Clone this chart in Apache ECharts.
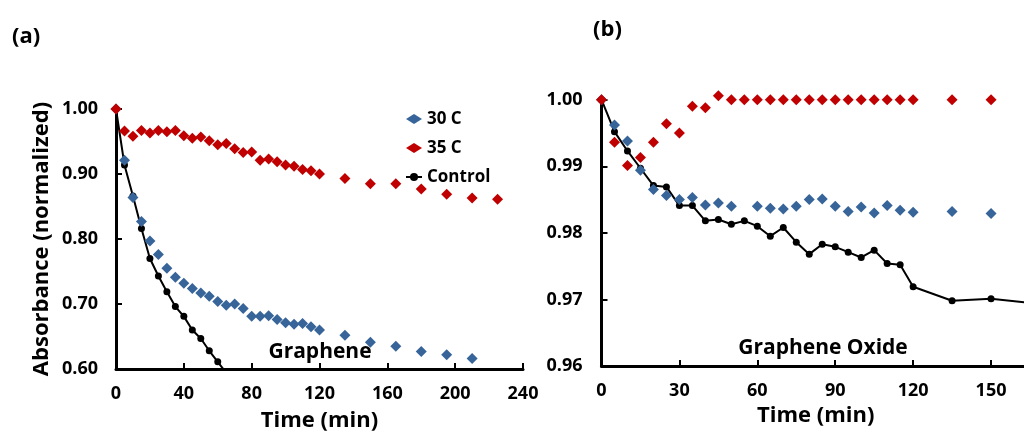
<!DOCTYPE html>
<html>
<head>
<meta charset="utf-8">
<script src="https://cdn.jsdelivr.net/npm/echarts@6/dist/echarts.min.js"></script>
<style>
  html, body { margin: 0; padding: 0; background: #fff; }
  #chart { width: 1024px; height: 434px; }
</style>
</head>
<body>
<div id="chart"></div>
<script>
// Panel (a): graphene, absorbance (normalized) vs time (min)
const timeA30 = [0, 5, 10, 15, 20, 25, 30, 35, 40, 45, 50, 55, 60, 65, 70, 75, 80, 85, 90, 95, 100, 105, 110, 115, 120, 135, 150, 165, 180, 195, 210];
const absA30 = [1.000, 0.921, 0.864, 0.827, 0.797, 0.776, 0.755, 0.741, 0.732, 0.724, 0.717, 0.712, 0.704, 0.698, 0.700, 0.693, 0.681, 0.681, 0.682, 0.676, 0.671, 0.669, 0.670, 0.665, 0.660, 0.652, 0.641, 0.635, 0.627, 0.622, 0.616];
const timeA35 = [0, 5, 10, 15, 20, 25, 30, 35, 40, 45, 50, 55, 60, 65, 70, 75, 80, 85, 90, 95, 100, 105, 110, 115, 120, 135, 150, 165, 180, 195, 210, 225];
const absA35 = [1.000, 0.966, 0.958, 0.967, 0.963, 0.967, 0.965, 0.967, 0.959, 0.955, 0.957, 0.951, 0.945, 0.947, 0.939, 0.933, 0.934, 0.921, 0.923, 0.919, 0.914, 0.912, 0.907, 0.905, 0.900, 0.893, 0.885, 0.885, 0.877, 0.869, 0.863, 0.861];
const timeACtrl = [0, 5, 10, 15, 20, 25, 30, 35, 40, 45, 50, 55, 60, 65];
const absACtrl = [1.000, 0.914, 0.866, 0.816, 0.770, 0.743, 0.719, 0.696, 0.681, 0.660, 0.647, 0.628, 0.611, 0.594];

// Panel (b): graphene oxide
const timeB30 = [0, 5, 10, 15, 20, 25, 30, 35, 40, 45, 50, 60, 65, 70, 75, 80, 85, 90, 95, 100, 105, 110, 115, 120, 135, 150];
const absB30 = [1.0000, 0.9962, 0.9938, 0.9894, 0.9865, 0.9856, 0.9850, 0.9853, 0.9842, 0.9845, 0.9840, 0.9840, 0.9837, 0.9836, 0.9840, 0.9850, 0.9851, 0.9840, 0.9832, 0.9839, 0.9830, 0.9841, 0.9834, 0.9831, 0.9832, 0.9829];
const timeB35 = [0, 5, 10, 15, 20, 25, 30, 35, 40, 45, 50, 55, 60, 65, 70, 75, 80, 85, 90, 95, 100, 105, 110, 115, 120, 135, 150];
const absB35 = [1.0000, 0.9936, 0.9901, 0.9913, 0.9936, 0.9964, 0.9950, 0.9990, 0.9988, 1.0006, 1.0000, 1.0000, 1.0000, 1.0000, 1.0000, 1.0000, 1.0000, 1.0000, 1.0000, 1.0000, 1.0000, 1.0000, 1.0000, 1.0000, 1.0000, 1.0000, 1.0000];
const timeBCtrl = [0, 5, 10, 15, 20, 25, 30, 35, 40, 45, 50, 55, 60, 65, 70, 75, 80, 85, 90, 95, 100, 105, 110, 115, 120, 135, 150, 180];
const absBCtrl = [1.0000, 0.9952, 0.9923, 0.9897, 0.9871, 0.9869, 0.9841, 0.9841, 0.9818, 0.9820, 0.9813, 0.9818, 0.9810, 0.9795, 0.9808, 0.9786, 0.9768, 0.9783, 0.9779, 0.9771, 0.9763, 0.9774, 0.9754, 0.9752, 0.9719, 0.9698, 0.9701, 0.9689];

// Axis ticks
const ticksAx = { min: 0, max: 240, interval: 40 };
const ticksAy = { min: 0.6, max: 1.0, interval: 0.1 };
const ticksBx = { min: 0, max: 165, interval: 30 };
const ticksBy = { min: 0.96, max: 1.0, interval: 0.01 };

const FONT = "'Open Sans', 'Noto Sans', sans-serif";
const BLUE = '#376499';
const RED = '#C00000';

const pairs = (xs, ys) => xs.map((x, i) => [x, ys[i]]);

const axisLine = { show: true, onZero: false, lineStyle: { color: '#000', width: 3 } };
const axisTick = { show: true, inside: true, length: 6, lineStyle: { color: '#000', width: 2 } };
const tickFont = { color: '#000', fontFamily: FONT, fontWeight: 'bold', fontSize: 18 };
const nameFont = { color: '#000', fontFamily: FONT, fontWeight: 'bold', fontSize: 22 };

const chart = echarts.init(document.getElementById('chart'), null, { renderer: 'canvas' });

chart.setOption({
  animation: false,
  backgroundColor: '#fff',
  grid: [
    { left: 116, right: 501, top: 109, bottom: 65, containLabel: false, outerBoundsMode: 'none' },
    { left: 601.5, right: -6, top: 99.7, bottom: 68, containLabel: false, outerBoundsMode: 'none' }
  ],
  xAxis: [
    {
      gridIndex: 0, type: 'value', ...ticksAx,
      axisLine, axisTick, splitLine: { show: false },
      axisLabel: { ...tickFont, margin: 16 },
      name: 'Time (min)', nameLocation: 'middle', nameGap: 41, nameTextStyle: nameFont
    },
    {
      gridIndex: 1, type: 'value', ...ticksBx,
      axisLine, axisTick, splitLine: { show: false },
      axisLabel: { ...tickFont, margin: 16, formatter: v => (v % 30 === 0 ? String(v) : '') },
      name: 'Time (min)', nameLocation: 'middle', nameGap: 39, nameTextStyle: nameFont
    }
  ],
  yAxis: [
    {
      gridIndex: 0, type: 'value', ...ticksAy,
      axisLine, axisTick, splitLine: { show: false },
      axisLabel: { ...tickFont, margin: 18, formatter: v => v.toFixed(2) },
      name: 'Absorbance (normalized)', nameLocation: 'middle', nameGap: 63, nameRotate: 90,
      nameTextStyle: nameFont
    },
    {
      gridIndex: 1, type: 'value', ...ticksBy,
      axisLine, axisTick, splitLine: { show: false },
      axisLabel: { ...tickFont, margin: 19, formatter: v => v.toFixed(2) }
    }
  ],
  legend: {
    orient: 'vertical',
    left: 400, top: 104,
    itemGap: 9,
    itemWidth: 16, itemHeight: 10,
    symbolKeepAspect: true,
    data: [
      { name: '30 C', icon: 'diamond' },
      { name: '35 C', icon: 'diamond' },
      { name: 'Control' }
    ],
    textStyle: { color: '#000', fontFamily: FONT, fontWeight: 'bold', fontSize: 17, lineHeight: 20 },
    selectedMode: false
  },
  series: [
    {
      name: 'Control', type: 'line', xAxisIndex: 0, yAxisIndex: 0,
      data: pairs(timeACtrl, absACtrl),
      symbol: 'circle', symbolSize: 7, showSymbol: true,
      lineStyle: { color: '#000', width: 2 }, itemStyle: { color: '#000', opacity: 1 }, clip: true, z: 2
    },
    {
      name: '30 C', type: 'scatter', xAxisIndex: 0, yAxisIndex: 0,
      data: pairs(timeA30, absA30), symbol: 'diamond', symbolSize: 11,
      itemStyle: { color: BLUE, opacity: 1 }, clip: false, z: 3
    },
    {
      name: '35 C', type: 'scatter', xAxisIndex: 0, yAxisIndex: 0,
      data: pairs(timeA35, absA35), symbol: 'diamond', symbolSize: 11,
      itemStyle: { color: RED, opacity: 1 }, clip: false, z: 4
    },
    {
      name: 'Control', type: 'line', xAxisIndex: 1, yAxisIndex: 1,
      data: pairs(timeBCtrl, absBCtrl),
      symbol: 'circle', symbolSize: 7, showSymbol: true,
      lineStyle: { color: '#000', width: 2 }, itemStyle: { color: '#000', opacity: 1 }, clip: true, z: 2
    },
    {
      name: '30 C', type: 'scatter', xAxisIndex: 1, yAxisIndex: 1,
      data: pairs(timeB30, absB30), symbol: 'diamond', symbolSize: 11,
      itemStyle: { color: BLUE, opacity: 1 }, clip: false, z: 3
    },
    {
      name: '35 C', type: 'scatter', xAxisIndex: 1, yAxisIndex: 1,
      data: pairs(timeB35, absB35), symbol: 'diamond', symbolSize: 11,
      itemStyle: { color: RED, opacity: 1 }, clip: false, z: 4
    }
  ],
  graphic: [
    { type: 'text', left: 12, top: 26, style: { text: '(a)', font: "bold 22px 'Open Sans', sans-serif", fill: '#000' } },
    { type: 'text', left: 593, top: 19, style: { text: '(b)', font: "bold 22px 'Open Sans', sans-serif", fill: '#000' } },
    { type: 'text', x: 320, y: 352, style: { text: 'Graphene', font: "bold 21px 'Open Sans', sans-serif", fill: '#000', align: 'center', verticalAlign: 'middle' }, z: 10 },
    { type: 'text', x: 823, y: 348, style: { text: 'Graphene Oxide', font: "bold 21px 'Open Sans', sans-serif", fill: '#000', align: 'center', verticalAlign: 'middle' }, z: 10 }
  ]
});
</script>
</body>
</html>
